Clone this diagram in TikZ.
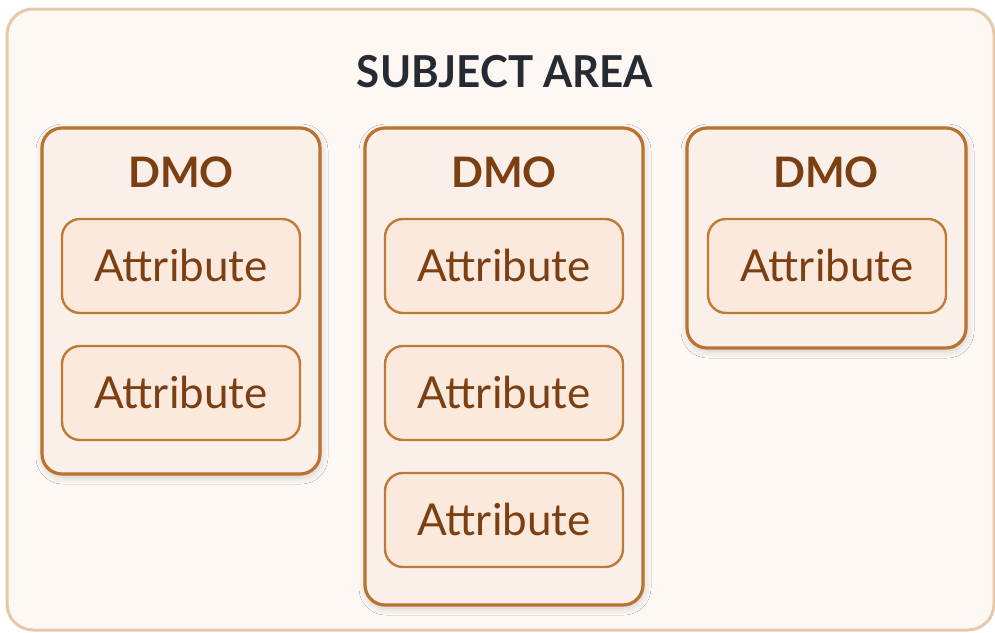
\documentclass[tikz,border=0pt]{standalone}
\usepackage{fontspec}
\setmainfont{Lato}
\usetikzlibrary{shadows.blur}
\definecolor{outerfill}{HTML}{FDF8F4}
\definecolor{outerline}{HTML}{E7C9A9}
\definecolor{dmofill}{HTML}{FAF0E9}
\definecolor{dmoline}{HTML}{B9722F}
\definecolor{attrfill}{HTML}{FCE9DE}
\definecolor{attrline}{HTML}{C17A36}
\definecolor{brown}{HTML}{7B3F12}
\definecolor{titlecol}{HTML}{262B33}
\tikzset{
  outerbox/.style={draw=outerline, fill=outerfill, line width=3pt, rounded corners=26pt},
  dmobox/.style={draw=dmoline, fill=dmofill, line width=3.2pt, rounded corners=20pt,
    blur shadow={shadow blur steps=12, shadow xshift=1pt, shadow yshift=-3pt, shadow opacity=18, shadow blur radius=7pt}},
  attrbox/.style={draw=attrline, fill=attrfill, line width=2.4pt, rounded corners=18pt},
  dmolabel/.style={text=brown, font=\fontsize{42}{46}\selectfont\bfseries, inner sep=0pt, anchor=base},
  attrlabel/.style={text=brown, font=\fontsize{44}{48}\selectfont, inner sep=0pt, anchor=base},
  titlelabel/.style={text=titlecol, font=\fontsize{44}{48}\selectfont\bfseries\addfontfeatures{FakeStretch=0.955}, inner sep=0pt, anchor=base},
}
\begin{document}
\begin{tikzpicture}[x=1pt,y=-1pt]
\useasboundingbox (0,0) rectangle (995,632);
\draw[outerbox] (7,9) rectangle (994,630);
\node[titlelabel] (title) at (505,87) {SUBJECT AREA};
% DMO boxes
\draw[dmobox] (42,128) rectangle (320,474);
\draw[dmobox] (365,128) rectangle (643,605);
\draw[dmobox] (687,128) rectangle (966,348);
\node[dmolabel] (d1) at (181,187) {DMO};
\node[dmolabel] (d2) at (504,187) {DMO};
\node[dmolabel] (d3) at (826,187) {DMO};
% attributes
\foreach \l in {62, 385, 708}{
  \draw[attrbox] (\l,219) rectangle ++(238,94);
}
\foreach \l in {62, 385}{
  \draw[attrbox] (\l,346) rectangle ++(238,94);
}
\draw[attrbox] (385,473) rectangle ++(238,94);
\node[attrlabel] (a11) at (181,281) {Attribute};
\node[attrlabel] (a12) at (181,408) {Attribute};
\node[attrlabel] (a21) at (504,281) {Attribute};
\node[attrlabel] (a22) at (504,408) {Attribute};
\node[attrlabel] (a23) at (504,535) {Attribute};
\node[attrlabel] (a31) at (827,281) {Attribute};
\end{tikzpicture}
\end{document}
